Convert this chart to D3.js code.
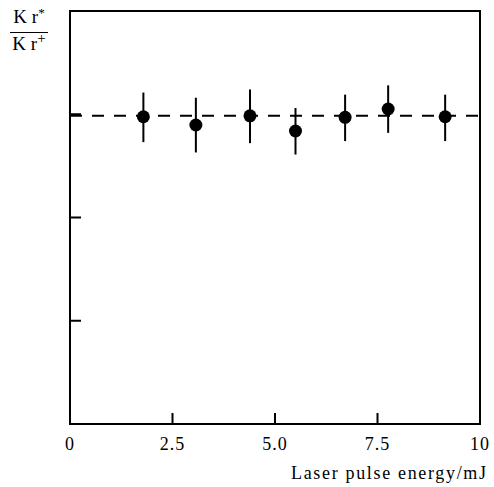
<!DOCTYPE html>
<html>
<head>
<meta charset="utf-8">
<script src="https://cdn.jsdelivr.net/npm/d3@7"></script>
<style>
  body { margin: 0; background: #fff; }
</style>
</head>
<body>
<div id="chart"></div>
<script>
// data
var energy = [1.79, 3.07, 4.39, 5.50, 6.71, 7.76, 9.15];
var ratio = [2.976, 2.896, 2.985, 2.838, 2.970, 3.051, 2.976];
var errLow = [2.73, 2.63, 2.72, 2.61, 2.74, 2.82, 2.74];
var errHigh = [3.21, 3.16, 3.24, 3.06, 3.19, 3.28, 3.19];
var meanRatio = 2.985;
var xTicks = [0, 2.5, 5, 7.5, 10];
var xTickLabels = ["0", "2.5", "5.0", "7.5", "10"];
var yTicks = [1, 2, 3];

var width = 494, height = 487;
var margin = { left: 70, right: 14, top: 11, bottom: 63 };
var serif = "'Liberation Serif', 'DejaVu Serif', serif";

var svg = d3.select("#chart").append("svg")
    .attr("width", width)
    .attr("height", height)
    .style("font-family", serif);

var x = d3.scaleLinear().domain([0, 10]).range([margin.left, width - margin.right]);
var y = d3.scaleLinear().domain([0, 4]).range([height - margin.bottom, margin.top]);

//frame
svg.append("rect")
    .attr("x", x(0))
    .attr("y", y(4))
    .attr("width", x(10) - x(0))
    .attr("height", y(0) - y(4))
    .attr("fill", "none")
    .attr("stroke", "#000")
    .attr("stroke-width", 2);

//inward ticks, bottom
svg.selectAll(".xtick").data(xTicks.slice(1, 4))
    .enter().append("line")
    .attr("x1", function(d) { return x(d); })
    .attr("x2", function(d) { return x(d); })
    .attr("y1", y(0))
    .attr("y2", y(0) - 11)
    .attr("stroke", "#000")
    .attr("stroke-width", 2);

//inward ticks, left
svg.selectAll(".ytick").data(yTicks)
    .enter().append("line")
    .attr("x1", x(0))
    .attr("x2", x(0) + 11)
    .attr("y1", function(d) { return y(d); })
    .attr("y2", function(d) { return y(d); })
    .attr("stroke", "#000")
    .attr("stroke-width", 2);

//tick labels
svg.selectAll(".xlabel").data(xTicks)
    .enter().append("text")
    .attr("x", function(d) { return x(d); })
    .attr("y", y(0) + 26)
    .attr("text-anchor", "middle")
    .attr("font-family", serif)
    .attr("font-size", 18)
    .attr("letter-spacing", 1)
    .text(function(d, i) { return xTickLabels[i]; });

//axis title
svg.append("text")
    .attr("x", 291)
    .attr("y", 479)
    .attr("font-family", serif)
    .attr("font-size", 18)
    .attr("textLength", 195)
    .attr("lengthAdjust", "spacing")
    .text("Laser pulse energy/mJ");

//y label as a fraction
var yl = svg.append("g").attr("font-family", serif);
var numer = yl.append("text").attr("x", 29).attr("y", 23).attr("text-anchor", "middle").attr("font-size", 19);
numer.append("tspan").text("K r");
numer.append("tspan").attr("font-size", 13).attr("dy", -6).text("*");
yl.append("line")
    .attr("x1", 10).attr("x2", 48)
    .attr("y1", 32.5).attr("y2", 32.5)
    .attr("stroke", "#000").attr("stroke-width", 1.2);
var denom = yl.append("text").attr("x", 29).attr("y", 50).attr("text-anchor", "middle").attr("font-size", 19);
denom.append("tspan").text("K r");
denom.append("tspan").attr("font-size", 15).attr("dy", -7).text("+");

//dashed mean line
svg.append("line")
    .attr("x1", x(0))
    .attr("x2", x(10))
    .attr("y1", y(meanRatio))
    .attr("y2", y(meanRatio))
    .attr("stroke", "#000")
    .attr("stroke-width", 2)
    .attr("stroke-dasharray", "12,10");

//error bars
svg.selectAll(".err").data(energy)
    .enter().append("line")
    .attr("x1", function(d) { return x(d); })
    .attr("x2", function(d) { return x(d); })
    .attr("y1", function(d, i) { return y(errLow[i]); })
    .attr("y2", function(d, i) { return y(errHigh[i]); })
    .attr("stroke", "#000")
    .attr("stroke-width", 2);

//points
svg.selectAll(".pt").data(energy)
    .enter().append("circle")
    .attr("cx", function(d) { return x(d); })
    .attr("cy", function(d, i) { return y(ratio[i]); })
    .attr("r", 6.5)
    .attr("fill", "#000");
</script>
</body>
</html>
